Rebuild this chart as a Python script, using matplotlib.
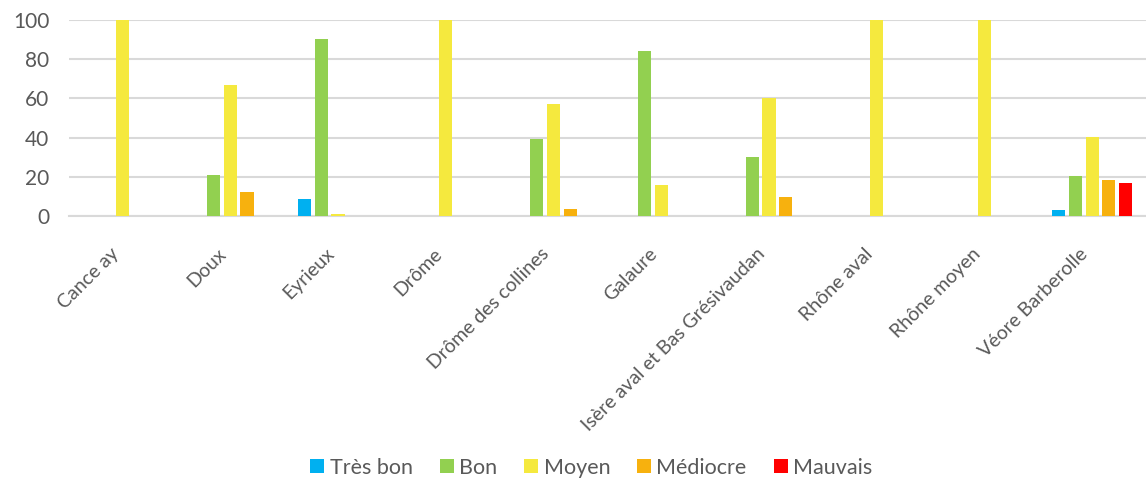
import numpy as np
import matplotlib.pyplot as plt
import matplotlib.transforms as mtransforms

plt.rcParams["font.family"] = ["Lato", "DejaVu Sans"]

categories = ["Cance ay", "Doux", "Eyrieux", "Drôme", "Drôme des collines",
              "Galaure", "Isère aval et Bas Grésivaudan", "Rhône aval",
              "Rhône moyen", "Véore Barberolle"]

tres_bon = [0, 0, 8.5, 0, 0, 0, 0, 0, 0, 3.1]
bon = [0, 21, 90.3, 0, 39.1, 84.2, 30.1, 0, 0, 20.4]
moyen = [100, 66.7, 1.0, 100, 57.1, 15.8, 60, 100, 100, 40.1]
mediocre = [0, 12.4, 0, 0, 3.4, 0, 9.7, 0, 0, 18.5]
mauvais = [0, 0, 0, 0, 0, 0, 0, 0, 0, 16.8]

series = [("Très bon", tres_bon, "#00b0f0"),
          ("Bon", bon, "#92d050"),
          ("Moyen", moyen, "#f5e93e"),
          ("Médiocre", mediocre, "#f7b10e"),
          ("Mauvais", mauvais, "#ff0000")]

fig = plt.figure(figsize=(11.46, 4.78), dpi=100)
ax = fig.add_axes([0.060, 0.548, 0.940, 0.410])

x = np.arange(len(categories))
slot = 0.155
width = 0.122
for i, (name, vals, color) in enumerate(series):
    ax.bar(x + (i - 2) * slot, vals, width, color=color, label=name,
           linewidth=0, zorder=3, clip_on=False)

ax.set_xlim(-0.5, len(categories) - 0.5)
ax.set_ylim(0, 100)
ax.set_yticks([0, 20, 40, 60, 80, 100])
ax.yaxis.grid(True, color="#d9d9d9", linewidth=1.5, zorder=0)
for s in ["top", "right", "left"]:
    ax.spines[s].set_visible(False)
ax.spines["bottom"].set_color("#d9d9d9")
ax.spines["bottom"].set_linewidth(1.5)
ax.tick_params(axis="both", length=0, colors="#595959")
ax.tick_params(axis="y", labelsize=15, pad=14)
ax.set_xticks(x)
ax.set_xticklabels(categories, rotation=45, ha="right",
                   rotation_mode="anchor", fontsize=14)
ax.tick_params(axis="x", pad=21)
shift = mtransforms.ScaledTranslation(-13 / 100, 0, fig.dpi_scale_trans)
for lab in ax.get_xticklabels():
    lab.set_transform(lab.get_transform() + shift)

leg = fig.legend(loc="lower center", bbox_to_anchor=(0.516, -0.04), ncol=5,
                 frameon=False, fontsize=15.5, handlelength=0.65,
                 handleheight=0.65, handletextpad=0.25, columnspacing=1.25)
for t in leg.get_texts():
    t.set_color("#595959")

fig.savefig("out.png", dpi=100)
